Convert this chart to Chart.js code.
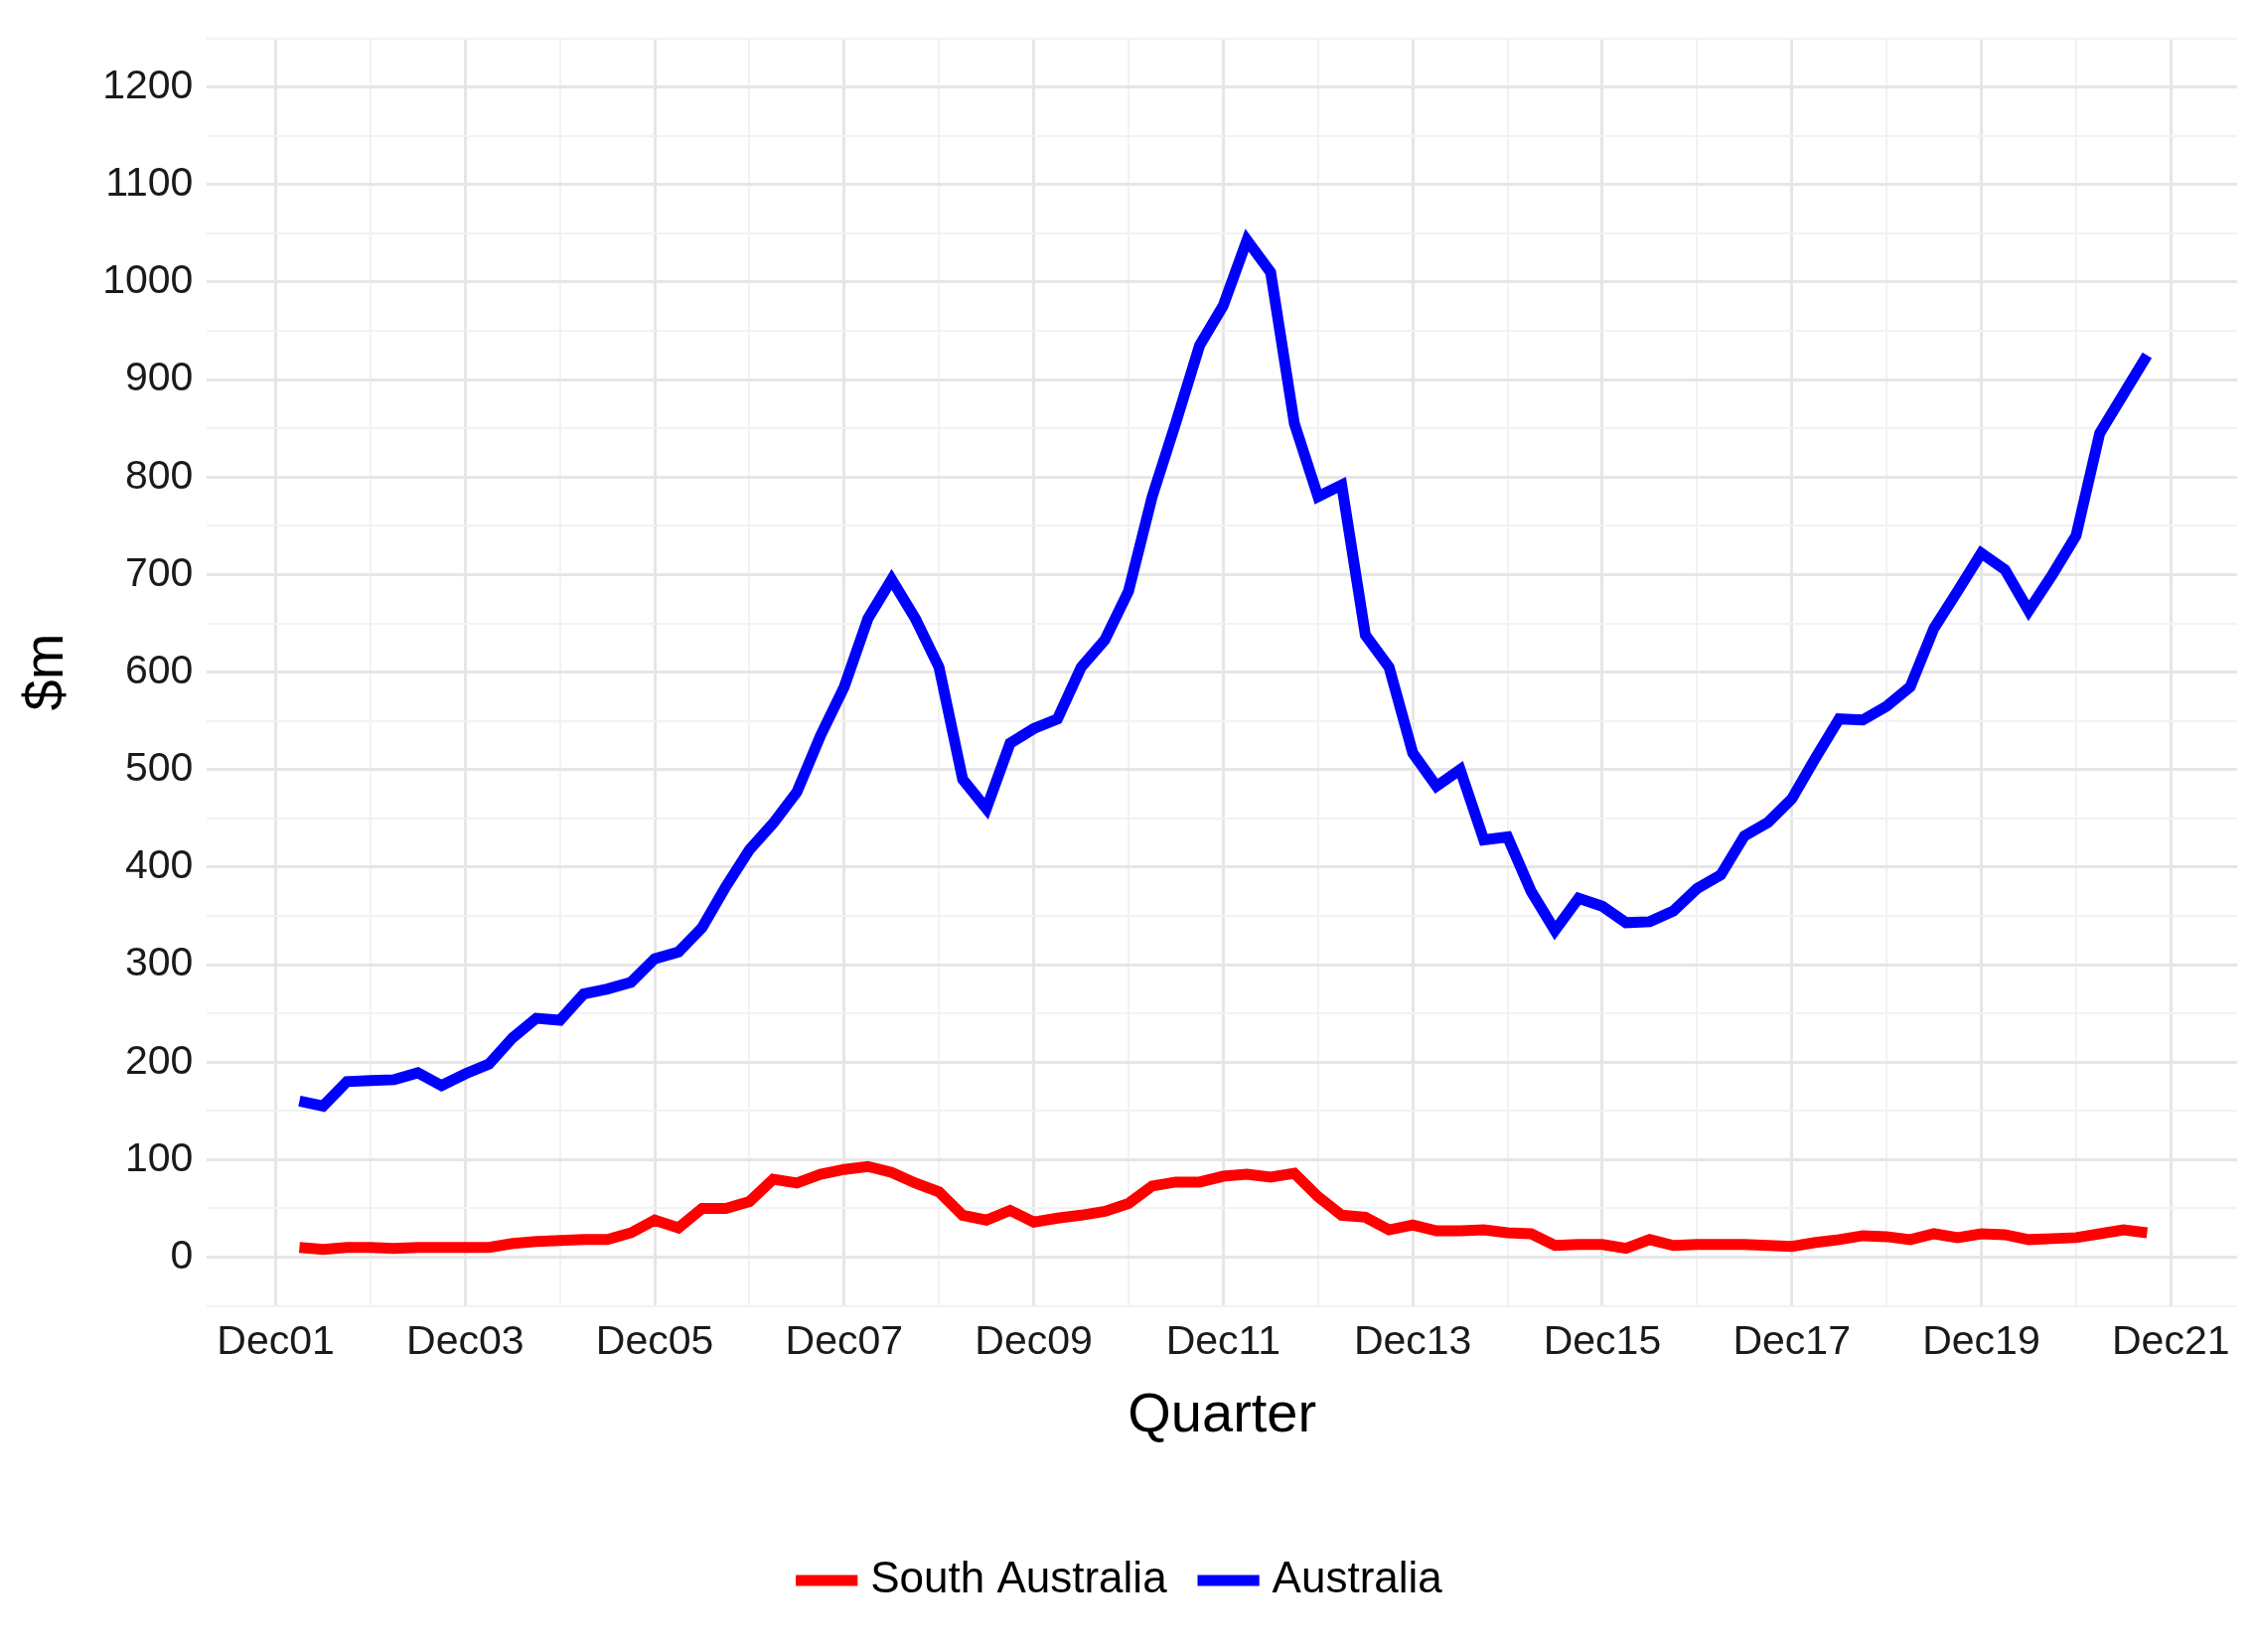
<!DOCTYPE html>
<html><head><meta charset="utf-8">
<script src="https://cdn.jsdelivr.net/npm/chart.js@4"></script>
<style>html,body{margin:0;padding:0;background:#fff}</style>
</head><body>
<canvas id="c" width="2272" height="1663"></canvas>
<script>
// quarter index: 0 = Dec01, 1 = Mar02, ... 79 = Sep21
const quarters = Array.from({length:79},(_,k)=>k+1);
const australia = [160,155,180,181,182,189,176,188,198,225,245,243,270,275,282,306,313,338,380,418,445,477,535,585,655,695,655,605,490,460,527,542,552,605,633,683,780,856,935,976,1043,1010,855,780,792,638,605,517,483,500,428,431,375,335,368,360,343,344,355,378,392,432,446,470,512,552,551,565,585,645,683,722,705,663,700,740,845,885,925];
const southAustralia = [10,8,10,10,9,10,10,10,10,14,16,17,18,18,25,38,30,50,50,57,80,76,85,90,93,87,76,67,43,38,48,36,40,43,47,55,73,77,77,83,85,82,86,62,43,41,28,33,27,27,28,25,24,12,13,13,9,18,12,13,13,13,12,11,15,18,22,21,18,24,20,24,23,18,19,20,24,28,25];
const xTickLabels = ['Dec01','Dec03','Dec05','Dec07','Dec09','Dec11','Dec13','Dec15','Dec17','Dec19','Dec21'];

const font = 'Liberation Sans, Arial, sans-serif';
new Chart(document.getElementById('c'), {
  type: 'line',
  data: { datasets: [
    { label: 'South Australia', data: quarters.map((q,i)=>({x:q,y:southAustralia[i]})), borderColor:'#ff0000', backgroundColor:'#ff0000', borderWidth:11, pointRadius:0, tension:0 },
    { label: 'Australia', data: quarters.map((q,i)=>({x:q,y:australia[i]})), borderColor:'#0000ff', backgroundColor:'#0000ff', borderWidth:11, pointRadius:0, tension:0 }
  ]},
  options: {
    responsive:false, animation:false, devicePixelRatio:1,
    layout:{padding:{left:10,right:20,top:12,bottom:40}},
    plugins:{
      legend:{position:'bottom', labels:{usePointStyle:true, pointStyle:'line', boxWidth:60, padding:40, color:'#000', font:{family:font,size:44}}},
      tooltip:{enabled:false}
    },
    scales:{
      x:{ type:'linear', min:-2.9, max:82.8,
        afterBuildTicks:(a)=>{const t=[];for(let v=0;v<=80;v+=4)t.push({value:v});a.ticks=t;},
        ticks:{ color:'#1a1a1a', font:{family:font,size:41}, maxRotation:0, autoSkip:false, padding:12,
          callback:(v)=> v%8===0 ? xTickLabels[v/8] : '' },
        grid:{ color:(c)=> (c.tick && c.tick.value%8===0)?'#e6e6e6':'#f2f2f2', lineWidth:(c)=>(c.tick && c.tick.value%8===0)?3:2, drawTicks:false },
        border:{display:false},
        title:{display:true,text:'Quarter',color:'#000',font:{family:font,size:56},padding:{top:4,bottom:70}}
      },
      y:{ min:-50, max:1250,
        afterBuildTicks:(a)=>{const t=[];for(let v=-50;v<=1250;v+=50)t.push({value:v});a.ticks=t;},
        ticks:{ color:'#1a1a1a', font:{family:font,size:41}, padding:14, autoSkip:false,
          callback:(v)=> (v%100===0 && v>=0 && v<=1200)? String(v) : '' },
        grid:{ color:(c)=> (c.tick && c.tick.value%100===0)?'#e6e6e6':'#f2f2f2', lineWidth:(c)=>(c.tick && c.tick.value%100===0)?3:2, drawTicks:false },
        border:{display:false},
        title:{display:true,text:'$m',color:'#000',font:{family:font,size:56},padding:{bottom:8}}
      }
    }
  }
});
</script>
</body></html>
